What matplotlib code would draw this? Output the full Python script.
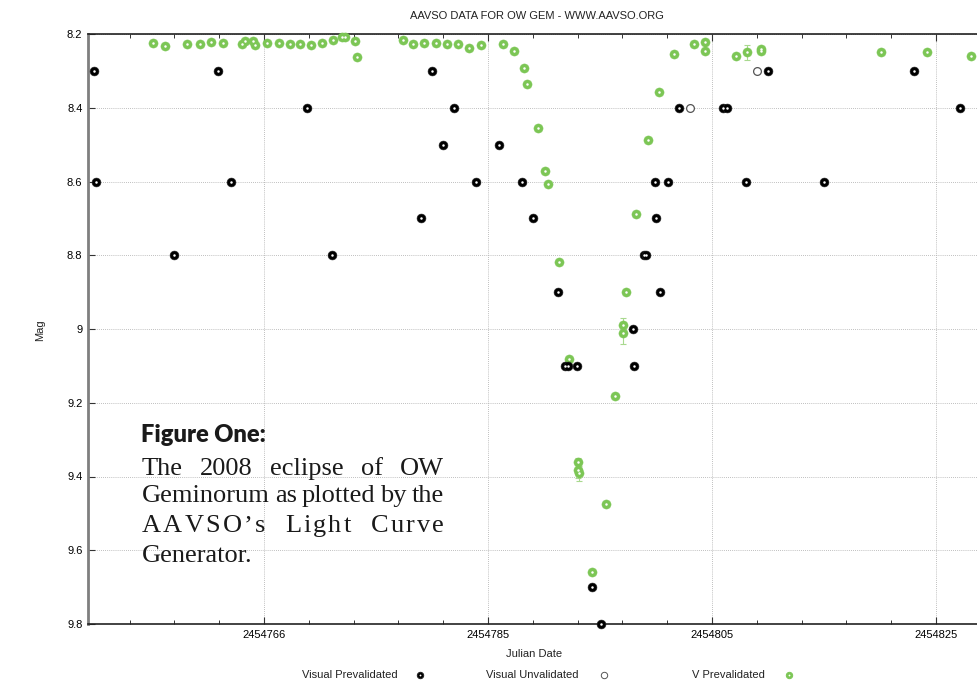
import numpy as np
import matplotlib
matplotlib.use("Agg")
import matplotlib.pyplot as plt
from matplotlib.lines import Line2D
from matplotlib.font_manager import FontProperties
from matplotlib.ticker import FixedLocator

# ==============================
# Data (JD offsets from 2454700, magnitudes)
# ==============================
JD0 = 2454700

vis_jd = [49.85, 49.97, 56.99, 60.87, 62.05, 68.87, 71.04, 79.02, 80.00, 80.96,
          81.96, 83.96, 86.01, 88.01, 89.04, 91.22, 91.88, 92.14, 92.95, 94.26,
          95.09, 97.95, 98.06, 98.93, 99.11, 99.91, 99.97, 100.38, 101.10, 102.08,
          106.01, 106.37, 108.04, 110.00, 115.03, 123.06, 127.11]
vis_mag = [8.3, 8.6, 8.8, 8.3, 8.6, 8.4, 8.8, 8.7, 8.3, 8.5,
           8.4, 8.6, 8.5, 8.6, 8.7, 8.9, 9.1, 9.1, 9.1, 9.7,
           9.8, 9.0, 9.1, 8.8, 8.8, 8.6, 8.7, 8.9, 8.6, 8.4,
           8.4, 8.4, 8.6, 8.3, 8.6, 8.3, 8.4]

unval_jd = [103.0, 109.0]
unval_mag = [8.4, 8.3]

v_jd = [55.12, 56.16, 58.13, 59.29, 60.29, 61.37, 63.06, 63.30, 64.04, 64.20,
        65.24, 66.37, 67.35, 68.21, 69.20, 70.18, 71.13, 71.92, 72.23, 73.13,
        73.28, 77.44, 78.30, 79.31, 80.33, 81.31, 82.32, 83.33, 84.35, 86.31,
        87.32, 88.19, 88.48, 89.49, 90.06, 90.36, 91.34, 92.26, 93.06, 93.06,
        93.13, 94.29, 95.51, 96.37, 97.08, 97.08, 97.32, 98.24, 99.26, 100.27,
        101.58, 103.42, 104.40, 104.35, 107.12, 108.15, 109.38, 109.38, 120.12, 124.17,
        128.13]
v_mag = [8.225, 8.232, 8.226, 8.228, 8.223, 8.225, 8.226, 8.219, 8.219, 8.230,
         8.224, 8.224, 8.226, 8.226, 8.231, 8.224, 8.216, 8.207, 8.207, 8.219,
         8.263, 8.217, 8.226, 8.224, 8.224, 8.228, 8.226, 8.237, 8.231, 8.226,
         8.246, 8.293, 8.336, 8.456, 8.571, 8.607, 8.819, 9.082, 9.360, 9.383,
         9.391, 9.659, 9.475, 9.182, 8.990, 9.011, 8.901, 8.689, 8.487, 8.357,
         8.254, 8.226, 8.222, 8.245, 8.260, 8.250, 8.240, 8.245, 8.250, 8.250,
         8.260]
v_err = [0.0] * len(v_mag)
for i, e in [(38, 0.01), (39, 0.02), (40, 0.02), (44, 0.02), (45, 0.03), (55, 0.02)]:
    v_err[i] = e

x_tick_pos = [65, 85, 105, 125]
x_tick_labels = ["2454766", "2454785", "2454805", "2454825"]
y_ticks = [8.2, 8.4, 8.6, 8.8, 9.0, 9.2, 9.4, 9.6, 9.8]

GREEN = "#7cc655"
W, H = 977, 681


def px(x, y):
    return x / W, (H - y) / H


def main():
    plt.rcParams["font.family"] = ["Liberation Sans", "DejaVu Sans"]
    fig = plt.figure(figsize=(W / 100, H / 100), dpi=100)
    ax = fig.add_axes([88 / W, (H - 624) / H, 1 - 88 / W, 590 / H])

    vx = [JD0 + d for d in vis_jd]
    ux = [JD0 + d for d in unval_jd]
    gx = [JD0 + d for d in v_jd]

    # V prevalidated with error bars
    ax.errorbar(gx, v_mag, yerr=v_err, fmt="none", ecolor="#a8d98e",
                elinewidth=0.8, capsize=2, capthick=0.8, zorder=3)
    ax.plot(gx, v_mag, "o", ms=6.6, mfc=GREEN, mec=GREEN, mew=0.3, zorder=4, clip_on=False)
    ax.plot(gx, v_mag, "o", ms=1.8, mfc="white", mew=0, zorder=5, clip_on=False)

    # visual prevalidated
    ax.plot(vx, vis_mag, "o", ms=6.4, mfc="black", mec="#222222", mew=0.4, zorder=6, clip_on=False)
    ax.plot(vx, vis_mag, "o", ms=1.8, mfc="white", mew=0, zorder=7, clip_on=False)

    # visual unvalidated
    ax.plot(ux, unval_mag, "o", ms=5.6, mfc="white", mec="#555555", mew=0.9, zorder=6)

    ax.set_xlim(JD0 + 49.286, JD0 + 128.66)
    ax.set_ylim(9.8, 8.2)

    ax.xaxis.set_major_locator(FixedLocator([JD0 + p for p in x_tick_pos]))
    ax.set_xticklabels(x_tick_labels)
    ax.xaxis.set_minor_locator(FixedLocator([JD0 + p for p in np.arange(49, 130, 4)]))
    ax.set_yticks(y_ticks)
    ax.set_yticklabels(["{:g}".format(v) for v in y_ticks])

    ax.tick_params(axis="both", which="major", direction="in", length=5, width=0.8,
                   labelsize=8, pad=4, top=True, right=False, color="#333333")
    ax.tick_params(axis="x", which="minor", direction="in", length=3, width=0.7,
                   top=True, color="#333333")

    ax.grid(True, which="major", linestyle=(0, (1, 1.5)), color="#aaaaaa", linewidth=0.6)
    ax.set_axisbelow(True)

    ax.spines["right"].set_visible(False)
    ax.spines["left"].set_color("#7f7f7f")
    ax.spines["left"].set_linewidth(2.0)
    ax.spines["bottom"].set_color("#222222")
    ax.spines["bottom"].set_linewidth(1.2)
    ax.spines["top"].set_color("#222222")
    ax.spines["top"].set_linewidth(1.2)

    # titles and labels
    fig.text(*px(537, 16), "AAVSO DATA FOR OW GEM - WWW.AAVSO.ORG",
             ha="center", va="center", fontsize=8, color="#222222")
    fig.text(*px(534, 654), "Julian Date", ha="center", va="center", fontsize=8, color="#222222")
    fig.text(*px(40, 330), "Mag", ha="center", va="center", rotation=90, fontsize=8, color="#222222")

    # legend row
    leg_y = 675
    items = [
        ("Visual Prevalidated", 398, 420, dict(mfc="black", mec="#222222")),
        ("Visual Unvalidated", 579, 604, dict(mfc="white", mec="#555555")),
        ("V Prevalidated", 765, 789, dict(mfc=GREEN, mec=GREEN)),
    ]
    for label, tx, mx, style in items:
        fig.text(*px(tx, leg_y), label, ha="right", va="center", fontsize=8, color="#222222")
        fig.add_artist(Line2D([mx / W], [(H - leg_y) / H], marker="o", ms=4.6, mew=0.7,
                              linestyle="none", transform=fig.transFigure, **style))
        if style["mfc"] != "white":
            fig.add_artist(Line2D([mx / W], [(H - leg_y) / H], marker="o", ms=1.3,
                                  mfc="white", mew=0, linestyle="none",
                                  transform=fig.transFigure))

    # caption block
    renderer = fig.canvas.get_renderer()
    head_fp = FontProperties(family=["Lato", "DejaVu Sans"], weight="heavy", size=17)
    body_fp = FontProperties(family=["Liberation Serif", "DejaVu Serif"], size=19)
    fig.text(*px(141, 442), "Figure One:", fontproperties=head_fp, ha="left",
             va="baseline", color="#1a1a1a")

    def width(s, fp):
        t = fig.text(0, 0, s, fontproperties=fp)
        w = t.get_window_extent(renderer).width
        t.remove()
        return w

    def justify(words, y, x0=142, x1=444, letter=0.0):
        widths = []
        for wd in words:
            if letter:
                widths.append(sum(width(c, body_fp) for c in wd) + letter * (len(wd) - 1))
            else:
                widths.append(width(wd, body_fp))
        gap = (x1 - x0 - sum(widths)) / (len(words) - 1)
        x = x0
        for wd, w in zip(words, widths):
            if letter:
                cx = x
                for c in wd:
                    fig.text(*px(cx, y), c, fontproperties=body_fp, ha="left",
                             va="baseline", color="#1a1a1a")
                    cx += width(c, body_fp) + letter
            else:
                fig.text(*px(x, y), wd, fontproperties=body_fp, ha="left",
                         va="baseline", color="#1a1a1a")
            x += w + gap

    justify(["The", "2008", "eclipse", "of", "OW"], 475)
    justify(["Geminorum", "as", "plotted", "by", "the"], 502)
    justify(["AAVSO\u2019s", "Light", "Curve"], 532, letter=2.2)
    fig.text(*px(142, 562), "Generator.", fontproperties=body_fp, ha="left",
             va="baseline", color="#1a1a1a")

    fig.savefig("out.png", dpi=100)


if __name__ == "__main__":
    main()
